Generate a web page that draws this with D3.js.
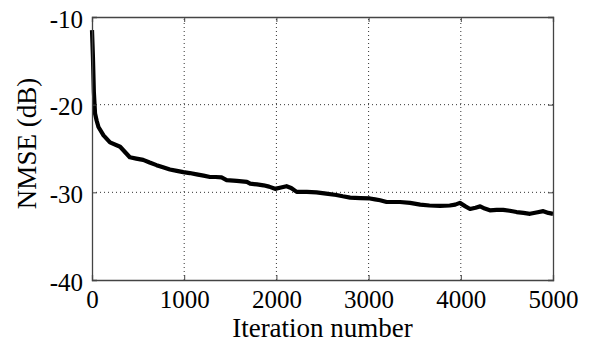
<!DOCTYPE html>
<html>
<head>
<meta charset="utf-8">
<script src="https://cdn.jsdelivr.net/npm/d3@7"></script>
<style>
  body { margin: 0; background: #fff; }
  svg { display: block; }
  text { font-family: "Liberation Serif", "Times New Roman", serif; fill: #000; }
</style>
</head>
<body>
<svg id="chart" width="592" height="343"></svg>
<script>
// iteration index and NMSE (dB)
var iterations = [0, 5, 10, 20, 33, 50, 70, 125, 195, 305, 375, 410, 480, 555, 625, 700, 770,
  845, 920, 990, 1060, 1135, 1210, 1280, 1340, 1405, 1460, 1570, 1680, 1715, 1790, 1860,
  1920, 1985, 2050, 2110, 2160, 2220, 2330, 2435, 2540, 2650, 2720, 2800, 2910, 3015, 3070,
  3125, 3195, 3340, 3450, 3560, 3660, 3775, 3880, 3940, 3990, 4050, 4100, 4160, 4210, 4260,
  4315, 4390, 4460, 4530, 4605, 4680, 4750, 4820, 4895, 4950, 5000];
var nmse = [-11.5, -13.0, -14.5, -18.5, -21.0, -21.8, -22.55, -23.5, -24.3, -24.8, -25.6, -26.0,
  -26.15, -26.3, -26.6, -26.9, -27.15, -27.4, -27.55, -27.7, -27.8, -27.95, -28.1, -28.25,
  -28.25, -28.3, -28.6, -28.7, -28.8, -29.0, -29.1, -29.2, -29.35, -29.6, -29.45, -29.3,
  -29.5, -29.95, -29.95, -30.0, -30.15, -30.3, -30.45, -30.6, -30.65, -30.7, -30.8, -30.9,
  -31.1, -31.1, -31.2, -31.4, -31.5, -31.55, -31.5, -31.4, -31.2, -31.6, -31.9, -31.75, -31.6,
  -31.85, -32.05, -32.0, -32.0, -32.1, -32.25, -32.35, -32.45, -32.3, -32.15, -32.35, -32.45];

var xTicks = [0, 1000, 2000, 3000, 4000, 5000];
var yTicks = [-40, -30, -20, -10];

var margin = {top: 17, right: 39, bottom: 63, left: 92};
var width = 592, height = 343;

var svg = d3.select("#chart");

var x = d3.scaleLinear()
  .domain([0, 5000])
  .range([margin.left, width - margin.right]);

var y = d3.scaleLinear()
  .domain([-40, -10])
  .range([height - margin.bottom, margin.top]);

// dotted grid
svg.append("g")
  .selectAll("line")
  .data(xTicks.slice(1, -1))
  .enter().append("line")
  .attr("x1", function(d) { return x(d); })
  .attr("x2", function(d) { return x(d); })
  .attr("y1", y(-40))
  .attr("y2", y(-10))
  .attr("stroke", "#333")
  .attr("stroke-width", 1)
  .attr("stroke-dasharray", "1,3");

svg.append("g")
  .selectAll("line")
  .data(yTicks.slice(1, -1))
  .enter().append("line")
  .attr("x1", x(0))
  .attr("x2", x(5000))
  .attr("y1", function(d) { return y(d); })
  .attr("y2", function(d) { return y(d); })
  .attr("stroke", "#333")
  .attr("stroke-width", 1)
  .attr("stroke-dasharray", "1,3");

// curve
var line = d3.line()
  .x(function(d, i) { return x(iterations[i]); })
  .y(function(d) { return y(d); });

svg.append("path")
  .datum(nmse)
  .attr("d", line)
  .attr("fill", "none")
  .attr("stroke", "#000")
  .attr("stroke-width", 4.2)
  .attr("stroke-linejoin", "round");

// axes, ticks pointing inward, MATLAB style box
var fmt = function(d) { return d < 0 ? "-" + Math.abs(d) : d; };

var xAxis = svg.append("g")
  .attr("transform", "translate(0," + y(-40) + ")")
  .call(d3.axisBottom(x).tickValues(xTicks).tickSize(-5).tickPadding(10).tickFormat(fmt));

var xTop = svg.append("g")
  .attr("transform", "translate(0," + y(-10) + ")")
  .call(d3.axisTop(x).tickValues(xTicks).tickSize(-5).tickFormat(""));

var yAxis = svg.append("g")
  .attr("transform", "translate(" + x(0) + ",0)")
  .call(d3.axisLeft(y).tickValues(yTicks).tickSize(-5).tickPadding(9).tickFormat(fmt));

var yRight = svg.append("g")
  .attr("transform", "translate(" + x(5000) + ",0)")
  .call(d3.axisRight(y).tickValues(yTicks).tickSize(-5).tickFormat(""));

[xAxis, xTop, yAxis, yRight].forEach(function(g) {
  g.selectAll(".domain").attr("stroke", "#444").attr("stroke-width", 1.3);
  g.selectAll(".tick line").attr("stroke", "#444");
  g.selectAll("text")
    .style("font-family", "'Liberation Serif', 'Times New Roman', serif")
    .style("font-size", "25px")
    .attr("fill", "#000");
});
yAxis.selectAll("text").attr("dy", "0.4em");

// axis labels
svg.append("text")
  .attr("x", (x(0) + x(5000)) / 2)
  .attr("y", 337)
  .attr("text-anchor", "middle")
  .style("font-size", "27px")
  .text("Iteration number");

svg.append("text")
  .attr("transform", "translate(36," + ((y(-10) + y(-40)) / 2 - 5) + ") rotate(-90)")
  .attr("text-anchor", "middle")
  .style("font-size", "27px")
  .text("NMSE (dB)");
</script>
</body>
</html>
